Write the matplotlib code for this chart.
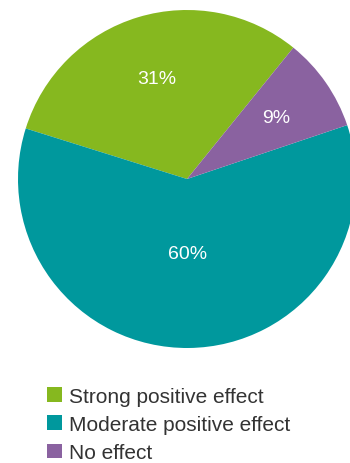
import numpy as np
import matplotlib.pyplot as plt
from matplotlib.patches import Patch

plt.rcParams['font.family'] = ['Liberation Sans', 'DejaVu Sans']

categories = ["Strong positive effect", "Moderate positive effect", "No effect"]
shares = [31, 60, 9]
colors = ["#86b81f", "#00989d", "#8a62a0"]
label_dist = [0.62, 0.44, 0.64]

W, H = 350, 464
fig = plt.figure(figsize=(W / 100, H / 100), dpi=100)
ax = fig.add_axes([0, 0, 1, 1])

cx, cy, r = 187, H - 180, 169
wedges, _ = ax.pie(shares, colors=colors, startangle=51, counterclock=True,
                   center=(cx, cy), radius=r, frame=True,
                   wedgeprops=dict(linewidth=0))
ax.set_xlim(0, W)
ax.set_ylim(0, H)
ax.set_aspect('equal')
ax.axis('off')

# percentage labels inside each slice
for w, v, d in zip(wedges, shares, label_dist):
    mid = np.deg2rad((w.theta1 + w.theta2) / 2)
    ax.text(cx + d * r * np.cos(mid), cy + d * r * np.sin(mid), f"{v}%",
            ha='center', va='center', color='white', fontsize=14)

handles = [Patch(facecolor=c, edgecolor='none') for c in colors]
fig.legend(handles, categories, loc='upper left',
           bbox_to_anchor=(47 / W, 1 - 388 / H), frameon=False,
           fontsize=15, handlelength=0.72, handleheight=0.72,
           handletextpad=0.35, labelspacing=0.44, borderpad=0,
           borderaxespad=0, labelcolor='#333333')

fig.savefig("out.png", dpi=100)
